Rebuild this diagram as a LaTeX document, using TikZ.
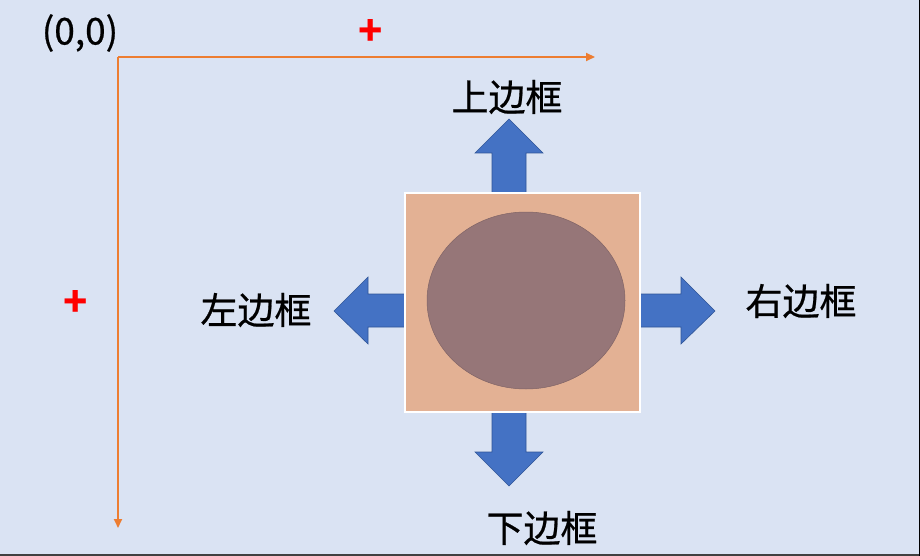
\documentclass[tikz,border=0pt]{standalone}
\usepackage{fontspec}
\setmainfont{Noto Sans CJK SC}
\newfontfamily\heavyfont[FakeBold=0.6]{Noto Sans CJK SC}
\usetikzlibrary{arrows.meta,positioning,shapes.geometric}

\definecolor{bgblue}{HTML}{DAE3F3}
\definecolor{axisorange}{HTML}{ED7D31}
\definecolor{arrowblue}{HTML}{4472C4}
\definecolor{arrowedge}{HTML}{2F5597}
\definecolor{framepeach}{HTML}{E3B194}
\definecolor{ballbrown}{HTML}{967678}

\begin{document}
\begin{tikzpicture}[
  x=1pt, y=-1pt,
  sidelabel/.style={font=\heavyfont\fontsize{37}{37}\selectfont, inner sep=0pt},
  axis/.style={draw=axisorange, line width=2pt, -{Triangle[length=9pt,width=8pt]}},
  plus/.style={text=red, font=\fontsize{40}{40}\selectfont\bfseries, inner sep=0pt},
  blockarrow/.style={fill=arrowblue, draw=arrowedge, line width=0.6pt}
]
\fill[bgblue] (0,0) rectangle (920,556);
\useasboundingbox (0,0) rectangle (920,556);
\draw[black!75, line width=2pt] (0,555) -- (920,555);
\draw[black, line width=1.5pt] (919.25,0) -- (919.25,556);

% axes
\coordinate (origin) at (118,57);
\coordinate (xend) at (595,57);
\coordinate (yend) at (118,528);
\draw[axis] (origin) -- (xend);
\draw[axis] (origin) -- (yend);
\node[font=\heavyfont\fontsize{37}{37}\selectfont, inner sep=0pt] (zero) at (80,33) {(0,0)};
\node[plus] (xplus) at (371,33) {+};
\node[plus] (yplus) at (76,303) {+};

% block arrows
\draw[blockarrow] (492,196) -- (492,153) -- (475,153) -- (509,119) -- (543,153) -- (526,153) -- (526,196) -- cycle;
\draw[blockarrow] (408,294) -- (368,294) -- (368,277) -- (334,311) -- (368,344) -- (368,327) -- (408,327) -- cycle;
\draw[blockarrow] (637,294) -- (681,294) -- (681,277) -- (715,311) -- (681,344) -- (681,327) -- (637,327) -- cycle;
\draw[blockarrow] (492,409) -- (492,452) -- (475,452) -- (509,486) -- (543,452) -- (526,452) -- (526,409) -- cycle;

% frame and ball
\node[draw=white, line width=2pt, fill=framepeach, minimum width=235pt, minimum height=219pt, inner sep=0pt] (frame) at (522.5,302.5) {};
\node[ellipse, draw=ballbrown!85!black, line width=0.5pt, fill=ballbrown, minimum width=198pt, minimum height=177pt, inner sep=0pt] (ball) at (526,300.5) {};

% labels
\node[sidelabel] (top) at (507,97) {上边框};
\node[sidelabel] (left) at (256,310) {左边框};
\node[sidelabel] (right) at (801,301) {右边框};
\node[sidelabel] (bottom) at (542,528) {下边框};
\end{tikzpicture}
\end{document}
